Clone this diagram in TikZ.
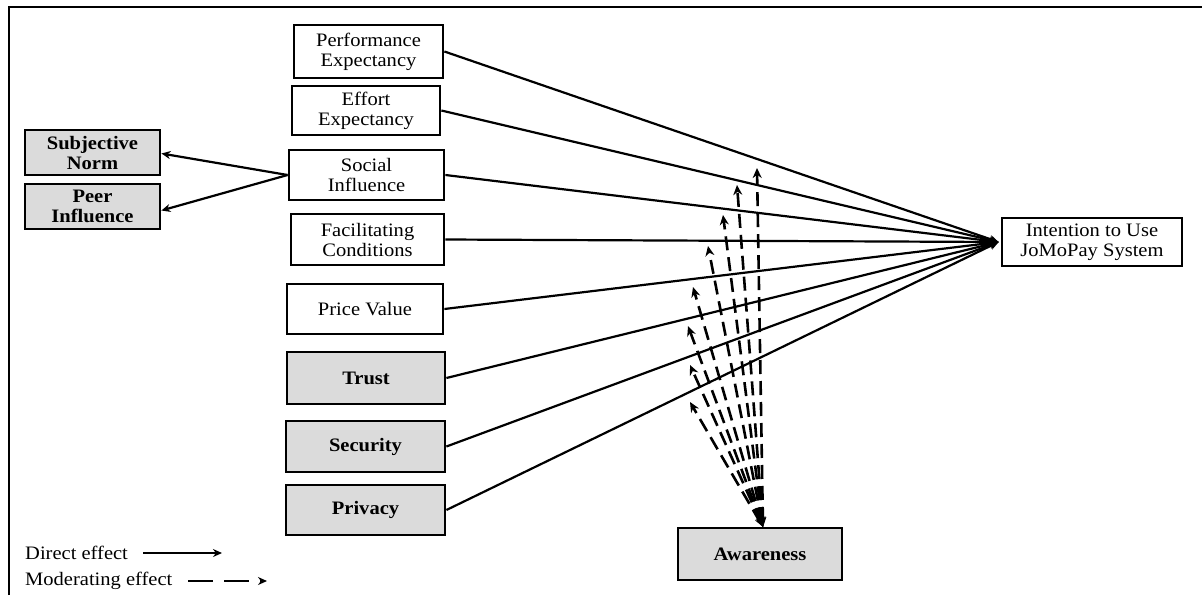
\documentclass[tikz,border=0pt]{standalone}
\usepackage{fontspec}
\setmainfont{Liberation Serif}[FakeStretch=1.08]
\usetikzlibrary{arrows.meta}
\tikzset{
  box/.style={draw, line width=2.8pt, fill=white, align=center, inner sep=0pt,
    font=\fontsize{19}{20}\selectfont},
  gbox/.style={box, fill=black!14, font=\fontsize{19}{20}\selectfont\bfseries},
  direct/.style={line width=2.2pt, -{Stealth[length=9pt,width=8pt]}},
  moder/.style={line width=2.6pt, dash pattern=on 14pt off 7pt,
    {Stealth[length=10pt,width=7pt]}-{Stealth[length=10pt,width=9pt]}},
  legtext/.style={anchor=west, inner sep=0pt, font=\fontsize{19}{20}\selectfont}
}
\begin{document}
\begin{tikzpicture}[x=1pt,y=-1pt]
\useasboundingbox (0,0) rectangle (1202,595);
\draw[line width=2.6pt] (9,595) -- (9,7) -- (1202,7);

\node[box, minimum width=149pt, minimum height=53pt] (pe) at (368.5,51.5) {Performance\\Expectancy};
\node[box, minimum width=148pt, minimum height=49pt] (ee) at (366,110.5) {Effort\\Expectancy};
\node[box, minimum width=155pt, minimum height=50pt] (si) at (366.5,175) {Social\\Influence};
\node[box, minimum width=153pt, minimum height=51pt] (fc) at (367.5,239.5) {Facilitating\\Conditions};
\node[box, minimum width=156pt, minimum height=50pt] (pv) at (365,309) {Price Value};
\node[gbox, minimum width=158pt, minimum height=52pt] (tr) at (366,378) {Trust};
\node[gbox, minimum width=159pt, minimum height=51pt] (se) at (365.5,446.5) {Security};
\node[gbox, minimum width=159pt, minimum height=50pt] (pr) at (365.5,510) {Privacy};
\node[gbox, minimum width=135pt, minimum height=45pt] (sn) at (92.5,152.5) {Subjective\\Norm};
\node[gbox, minimum width=135pt, minimum height=45pt] (pi) at (92.5,206.5) {Peer\\Influence};
\node[box, minimum width=180pt, minimum height=48pt] (int) at (1092,242) {Intention to Use\\JoMoPay System};
\node[gbox, minimum width=164pt, minimum height=52pt] (aw) at (760,554) {Awareness};

\draw[direct] (si.west) -- ([yshift=-1pt]sn.east);
\draw[direct] (si.west) -- ([yshift=-4pt]pi.east);

\foreach \n in {pe,ee,si,fc,pv,tr,se,pr}
  \draw[direct] (\n.east) -- ([xshift=-2pt]int.west);

\coordinate (awtop) at (763,527);
\coordinate (m1) at (757,168);
\coordinate (m2) at (737,185);
\coordinate (m3) at (723,215);
\coordinate (m4) at (708,246);
\coordinate (m5) at (693,287);
\coordinate (m6) at (688,326);
\coordinate (m7) at (690,365);
\coordinate (m8) at (690,402);
\foreach \m in {m1,m2,m3,m4,m5,m6,m7,m8}
  \draw[moder] (awtop) -- (\m);

\node[legtext] (ld) at (25,553) {Direct effect};
\node[legtext] (lm) at (25,581) {Moderating effect};
\coordinate (ld1) at (143,553);
\coordinate (ld2) at (222,553);
\coordinate (lm1) at (188,581);
\coordinate (lm2) at (267,581);
\draw[direct] (ld1) -- (ld2);
\draw[line width=2.2pt, dash pattern=on 25pt off 11pt, -{Stealth[length=9pt,width=8pt]}] (lm1) -- (lm2);
\end{tikzpicture}
\end{document}
